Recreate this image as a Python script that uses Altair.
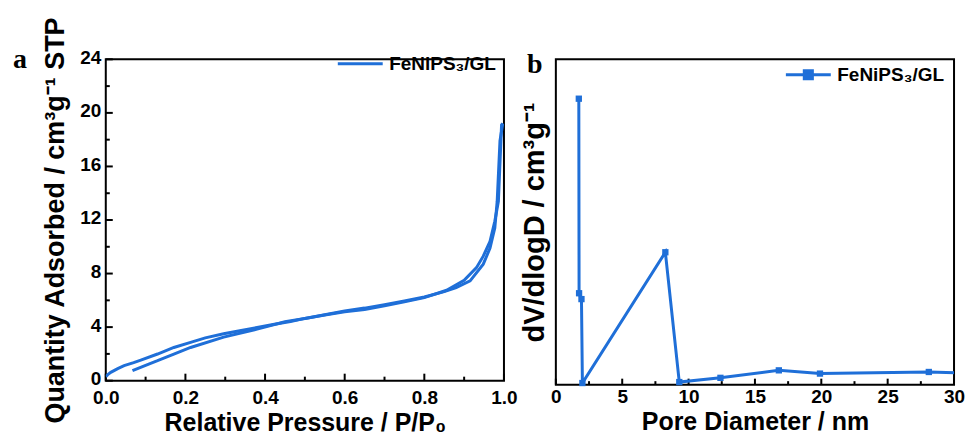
import altair as alt
import pandas as pd

# ---------------- data ----------------
# (a) N2 isotherm, two branches
ads_x = [0.0, 0.005, 0.0125, 0.03, 0.046, 0.07, 0.088, 0.13, 0.171, 0.213, 0.25, 0.296,
         0.34, 0.38, 0.42, 0.464, 0.5, 0.55, 0.6, 0.65, 0.7, 0.75, 0.8, 0.85, 0.88,
         0.915, 0.948, 0.965, 0.977, 0.983, 0.99, 0.997]
ads_y = [0.3, 0.45, 0.62, 0.9, 1.12, 1.35, 1.54, 1.99, 2.48, 2.86, 3.2, 3.5,
         3.75, 3.97, 4.2, 4.42, 4.65, 4.92, 5.2, 5.42, 5.68, 5.95, 6.25, 6.65, 6.95,
         7.45, 8.7, 9.9, 11.4, 13.4, 17.9, 19.2]
des_x = [0.997, 0.994, 0.986, 0.977, 0.965, 0.948, 0.931, 0.9, 0.856, 0.8, 0.75, 0.7,
         0.65, 0.6, 0.55, 0.5, 0.45, 0.38, 0.296, 0.213, 0.171, 0.13, 0.1, 0.067]
des_y = [19.2, 19.1, 13.4, 11.9, 10.4, 9.3, 8.44, 7.5, 6.75, 6.2, 5.9, 5.6,
         5.32, 5.15, 4.9, 4.65, 4.4, 3.85, 3.25, 2.48, 1.99, 1.49, 1.15, 0.75]

# (b) pore size distribution
pd_x = [1.73, 1.75, 1.93, 2.0, 8.25, 9.3, 12.4, 16.8, 19.9, 28.1, 31.0]
pd_y = [0.879, 0.281, 0.263, 0.005, 0.407, 0.008, 0.021, 0.044, 0.034, 0.039, 0.035]

a_xmaj = [0.0, 0.2, 0.4, 0.6, 0.8, 1.0]
a_xmin = [0.1, 0.3, 0.5, 0.7, 0.9]
a_ymaj = [0, 4, 8, 12, 16, 20, 24]
a_ymin = [2, 6, 10, 14, 18, 22]
b_xmaj = [0, 5, 10, 15, 20, 25, 30]
b_xmin = [2.5, 7.5, 12.5, 17.5, 22.5, 27.5]

LABEL = "FeNiPS₃/GL"
BLUE = "#1F6FD8"
FONT = "Liberation Sans"
SERIF = "Liberation Serif"

WA, HA = 399, 322
WB, HB = 399, 326

# ---------------- panel a ----------------
rows = []
for i, (x, y) in enumerate(zip(ads_x, ads_y)):
    rows.append({"p": x, "q": y, "branch": "ads", "i": i, "s": LABEL})
for i, (x, y) in enumerate(zip(des_x, des_y)):
    rows.append({"p": x, "q": y, "branch": "des", "i": i, "s": LABEL})
dfa = pd.DataFrame(rows)

xa = alt.X("p:Q", scale=alt.Scale(domain=[0, 1], nice=False, zero=False),
           axis=alt.Axis(values=a_xmaj, format=".1f", title="Relative Pressure / P/P₀",
                         labelPadding=8, titlePadding=3))
ya = alt.Y("q:Q", scale=alt.Scale(domain=[0, 24], nice=False, zero=False),
           axis=alt.Axis(values=a_ymaj, format="d", title="Quantity Adsorbed / cm³g⁻¹ STP",
                         labelPadding=5, labelOffset=-2, titlePadding=10, titleFontSize=27))

color = alt.Color("s:N", scale=alt.Scale(domain=[LABEL], range=[BLUE]),
                  legend=alt.Legend(title=None, orient="none", legendX=231, legendY=-19.5,
                                    padding=0, symbolType="stroke", symbolSize=2025,
                                    symbolStrokeWidth=3, symbolStrokeColor=BLUE,
                                    labelOffset=5, labelFont=FONT, labelFontSize=19,
                                    labelFontWeight="bold", labelColor="black"))

line_a = alt.Chart(dfa).mark_line(strokeWidth=3, clip=True).encode(
    x=xa, y=ya, color=color, detail="branch:N", order="i:Q")

def xticks(vals, H, L, xenc):
    return alt.Chart(pd.DataFrame({"p": vals})).mark_rule(color="black", strokeWidth=2).encode(
        x=xenc, y=alt.value(H), y2=alt.value(H - L))

def yticks(vals, L, yenc):
    return alt.Chart(pd.DataFrame({"q": vals})).mark_rule(color="black", strokeWidth=2).encode(
        y=yenc, x=alt.value(0), x2=alt.value(L))

letter_a = alt.Chart(pd.DataFrame({"t": ["a"]})).mark_text(
    font=SERIF, fontSize=28, fontWeight="bold", align="left", baseline="alphabetic",
    color="black").encode(text="t:N", x=alt.value(-93), y=alt.value(9))

panel_a = alt.layer(
    xticks(a_xmaj, HA, 7, xa), xticks(a_xmin, HA, 4, xa),
    yticks(a_ymaj, 7, ya), yticks(a_ymin, 4, ya),
    line_a, letter_a
).properties(width=WA, height=HA)

# ---------------- panel b ----------------
dfb = pd.DataFrame({"p": pd_x, "q": pd_y, "s": [LABEL] * len(pd_x)})

xb = alt.X("p:Q", scale=alt.Scale(domain=[0, 30], nice=False, zero=False),
           axis=alt.Axis(values=b_xmaj, format="d", title="Pore Diameter / nm",
                         labelPadding=3, titlePadding=3))
yb = alt.Y("q:Q", scale=alt.Scale(domain=[0, 1], nice=False, zero=False),
           axis=alt.Axis(labels=False, title="dV/dlogD / cm³g⁻¹", titlePadding=6,
                         titleFontSize=29))

sym_b = "M-1,0H1M-0.18,-0.18H0.18V0.18H-0.18Z"
color_b = alt.Color("s:N", scale=alt.Scale(domain=[LABEL], range=[BLUE]),
                    legend=alt.Legend(title=None, orient="none", legendX=229, legendY=-8.5,
                                      padding=0, symbolType=sym_b, symbolSize=2025,
                                      symbolStrokeWidth=3, symbolStrokeColor=BLUE,
                                      symbolFillColor=BLUE,
                                      labelOffset=5, labelFont=FONT, labelFontSize=19,
                                      labelFontWeight="bold", labelColor="black"))

line_b = alt.Chart(dfb).mark_line(strokeWidth=3, clip=True).encode(
    x=xb, y=yb, color=color_b, order=alt.Order("p:Q"))
pts_b = alt.Chart(dfb).transform_filter("datum.p <= 30").mark_point(
    shape="square", filled=True, size=40, opacity=1).encode(
    x=xb, y=yb, color=alt.Color("s:N", scale=alt.Scale(domain=[LABEL], range=[BLUE]), legend=None))

letter_b = alt.Chart(pd.DataFrame({"t": ["b"]})).mark_text(
    font=SERIF, fontSize=28, fontWeight="bold", align="left", baseline="alphabetic",
    color="black").encode(text="t:N", x=alt.value(-29), y=alt.value(14))

panel_b = alt.layer(
    xticks(b_xmaj, HB, 6, xb), xticks(b_xmin, HB, 3.5, xb),
    line_b, pts_b, letter_b
).properties(width=WB, height=HB)

chart = alt.hconcat(panel_a, panel_b, spacing=52, bounds="flush").resolve_scale(
    color="independent").resolve_legend(color="independent").properties(
    padding={"left": 12, "top": 14, "right": 3, "bottom": 4}, background="white"
).configure_view(stroke="black", strokeWidth=2).configure_axis(
    domain=False, ticks=False, grid=False, labelFlush=False,
    labelFont=FONT, labelFontSize=19, labelFontWeight="bold", labelColor="black",
    titleFont=FONT, titleFontSize=25, titleFontWeight="bold", titleColor="black"
)

chart.save("out.html", embed_options={"renderer": "svg", "actions": False})
